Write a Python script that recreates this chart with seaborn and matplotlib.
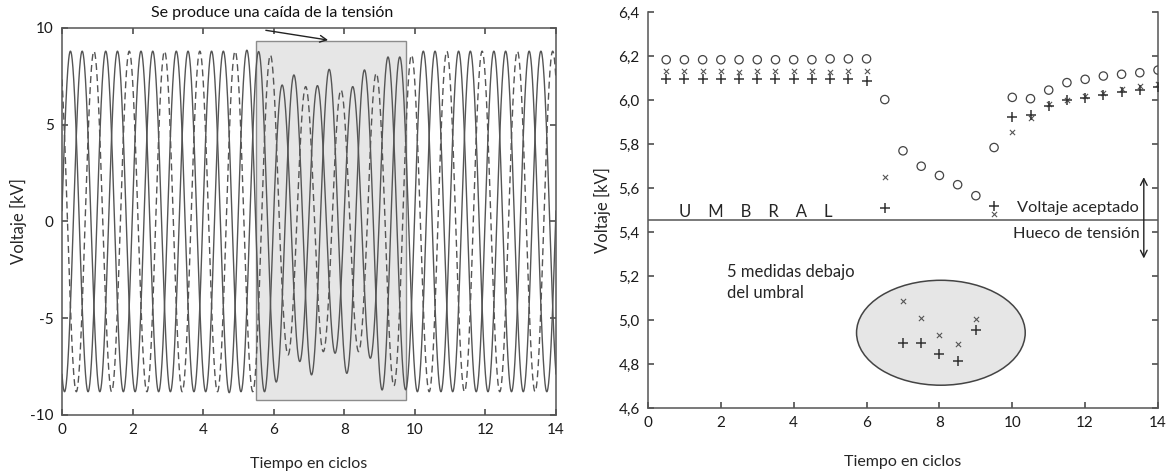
import numpy as np
import pandas as pd
import seaborn as sns
import matplotlib.pyplot as plt
from matplotlib.patches import Rectangle, Ellipse

# ---- left panel: three-phase waveform, peak / trough value for each cycle ----
# index 0 is cycle -1, index 15 is cycle 14
cycles = list(range(-1, 15))
peak_a = [8.8, 8.8, 8.8, 8.8, 8.8, 8.8, 8.85, 7.05, 7.02, 6.97, 8.5, 8.8, 8.8, 8.8, 8.8, 8.8]
trough_a = [-8.8, -8.8, -8.8, -8.8, -8.8, -8.85, -8.8, -7.24, -6.81, -7.07, -8.7, -8.8, -8.8, -8.8, -8.8, -8.8]
peak_b = [8.8, 8.8, 8.8, 8.8, 8.8, 8.8, 8.78, 7.57, 7.86, 7.83, 8.5, 8.8, 8.8, 8.8, 8.8, 8.8]
trough_b = [-8.8, -8.8, -8.8, -8.8, -8.8, -8.8, -8.3, -7.93, -7.85, -8.71, -8.8, -8.8, -8.8, -8.8, -8.8, -8.8]
peak_c = [8.8, 8.8, 8.8, 8.8, 8.8, 8.8, 8.6, 6.97, 6.8, 7.66, 8.6, 8.8, 8.8, 8.8, 8.8, 8.8]
trough_c = [-8.8, -8.8, -8.8, -8.8, -8.8, -8.8, -6.9, -6.73, -6.73, -8.5, -8.8, -8.8, -8.8, -8.8, -8.8, -8.8]
phase_peak_pos = {"A": 0.24, "B": 0.573, "C": 0.907}

# ---- right panel: rms values every half cycle ----
t_half = [0.5, 1.0, 1.5, 2.0, 2.5, 3.0, 3.5, 4.0, 4.5, 5.0, 5.5, 6.0, 6.5, 7.0,
          7.5, 8.0, 8.5, 9.0, 9.5, 10.0, 10.5, 11.0, 11.5, 12.0, 12.5, 13.0, 13.5, 14.0]
v_circle = [6.183, 6.183, 6.183, 6.183, 6.183, 6.183, 6.183, 6.183, 6.183, 6.187, 6.187, 6.187,
            6.002, 5.769, 5.699, 5.657, 5.615, 5.565, 5.784, 6.012, 6.006, 6.045,
            6.079, 6.094, 6.109, 6.117, 6.124, 6.136]
v_cross = [6.132, 6.132, 6.132, 6.132, 6.127, 6.132, 6.132, 6.132, 6.132, 6.127, 6.132, 6.132,
           5.65, 5.088, 5.009, 4.934, 4.891, 5.006, 5.483, 5.856, 5.92, 5.98,
           6.002, 6.02, 6.033, 6.05, 6.064, 6.072]
v_plus = [6.097, 6.097, 6.097, 6.097, 6.097, 6.095, 6.095, 6.095, 6.097, 6.095, 6.095, 6.087,
          5.511, 4.894, 4.894, 4.846, 4.812, 4.954, 5.52, 5.923, 5.933, 5.971,
          6.0, 6.009, 6.023, 6.035, 6.045, 6.057]
umbral = 5.453
volt_ticks = [4.6, 4.8, 5.0, 5.2, 5.4, 5.6, 5.8, 6.0, 6.2, 6.4]
cycle_ticks = [0, 2, 4, 6, 8, 10, 12, 14]

sns.set_theme(style="ticks")
plt.rcParams["font.family"] = ["Lato", "DejaVu Sans"]
plt.rcParams["axes.unicode_minus"] = False
plt.rcParams["axes.edgecolor"] = "#555555"
plt.rcParams["xtick.color"] = "#555555"
plt.rcParams["ytick.color"] = "#555555"
plt.rcParams["xtick.labelcolor"] = "#1a1a1a"
plt.rcParams["ytick.labelcolor"] = "#1a1a1a"

fig = plt.figure(figsize=(11.69, 4.71), dpi=100)
ax1 = fig.add_axes([0.053, 0.119, 0.4226, 0.8217])
ax2 = fig.add_axes([0.5543, 0.1338, 0.4363, 0.8407])

# build the waveform from the per half-wave amplitudes
t = np.linspace(0, 14, 4201)


def phase_wave(p0, peaks, troughs):
    k = np.floor(2 * (t - p0) + 0.5).astype(int)
    idx = np.floor_divide(k, 2) + 1
    amp = np.where(k % 2 == 0, np.array(peaks)[idx], np.array(troughs)[idx])
    return amp * np.abs(np.cos(2 * np.pi * (t - p0)))


wave = pd.DataFrame({
    "t": t,
    "A": phase_wave(phase_peak_pos["A"], peak_a, trough_a),
    "B": phase_wave(phase_peak_pos["B"], peak_b, trough_b),
    "C": phase_wave(phase_peak_pos["C"], peak_c, trough_c),
})

ax1.add_patch(Rectangle((5.5, -9.25), 4.25, 18.6, facecolor="#e6e6e6",
                        edgecolor="#8c8c8c", linewidth=1, zorder=0))
sns.lineplot(data=wave, x="t", y="A", ax=ax1, color="#555555", linewidth=1.0, estimator=None)
sns.lineplot(data=wave, x="t", y="B", ax=ax1, color="#555555", linewidth=1.0, estimator=None)
sns.lineplot(data=wave, x="t", y="C", ax=ax1, color="#555555", linewidth=1.0, estimator=None,
             dashes=False, linestyle=(0, (5, 3)))

ax1.set_xlim(0, 14)
ax1.set_ylim(-10, 10)
ax1.set_xticks(cycle_ticks)
ax1.set_yticks([-10, -5, 0, 5, 10])
ax1.tick_params(direction="in", length=4, top=True, right=True, labelsize=11, pad=6)
ax1.set_xlabel("Tiempo en ciclos", fontsize=11.5, labelpad=14)
ax1.set_ylabel("Voltaje [kV]", fontsize=12, labelpad=2)
for s in ax1.spines.values():
    s.set_linewidth(1.1)
ax1.annotate("", xy=(7.62, 9.35), xytext=(5.7, 9.9),
             arrowprops=dict(arrowstyle="->", color="#222222", lw=1), annotation_clip=False)
ax1.text(5.95, 10.4, "Se produce una caída de la tensión", ha="center", va="bottom",
         fontsize=11.5, color="#111111")

# right panel
meas = pd.DataFrame({"t": t_half, "circ": v_circle, "cross": v_cross, "plus": v_plus})
ax2.add_patch(Ellipse((8.04, 4.942), 4.63, 0.477, facecolor="#e6e6e6",
                      edgecolor="#444444", linewidth=1.1, zorder=0))
ax2.axhline(umbral, color="#6e6e6e", linewidth=1.3, zorder=1)
sns.scatterplot(data=meas, x="t", y="circ", ax=ax2, marker="o", s=36,
                facecolor="none", edgecolor="#444444", linewidth=0.9, zorder=3)
sns.scatterplot(data=meas, x="t", y="cross", ax=ax2, marker="x", s=14,
                color="#555555", linewidth=0.8, zorder=3)
sns.scatterplot(data=meas, x="t", y="plus", ax=ax2, marker="+", s=48,
                color="#333333", linewidth=1.1, zorder=3)

ax2.set_xlim(0, 14)
ax2.set_ylim(4.6, 6.4)
ax2.set_xticks(cycle_ticks)
ax2.set_yticks(volt_ticks)
ax2.set_yticklabels([f"{v:.1f}".replace(".", ",") for v in volt_ticks])
ax2.tick_params(direction="in", length=4, right=True, labelsize=11, pad=6)
ax2.spines["top"].set_visible(False)
for s in ["left", "right", "bottom"]:
    ax2.spines[s].set_linewidth(1.1)
ax2.set_xlabel("Tiempo en ciclos", fontsize=11.5, labelpad=18)
ax2.set_ylabel("Voltaje [kV]", fontsize=12, labelpad=5)

ax2.text(2.95, 5.49, "U    M    B    R    A    L", ha="center", va="center", fontsize=12)
ax2.text(13.47, 5.51, "Voltaje aceptado", ha="right", va="center", fontsize=11.8)
ax2.text(13.5, 5.393, "Hueco de tensión", ha="right", va="center", fontsize=11.8)
ax2.annotate("", xy=(13.61, 5.662), xytext=(13.61, 5.267),
             arrowprops=dict(arrowstyle="<->", color="#222222", lw=1))
ax2.text(2.17, 5.17, "5 medidas debajo\ndel umbral", ha="left", va="center",
         fontsize=12, linespacing=1.4)

fig.savefig("out.png", dpi=100)
